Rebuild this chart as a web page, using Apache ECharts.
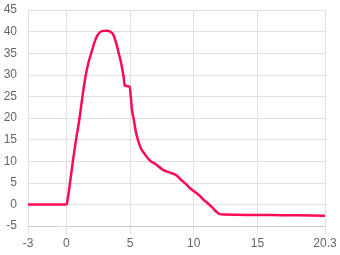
<!DOCTYPE html>
<html>
<head>
<meta charset="utf-8">
<script src="https://cdn.jsdelivr.net/npm/echarts@6/dist/echarts.min.js"></script>
<style>html,body{margin:0;padding:0;background:#fff}#c{width:340px;height:255px}</style>
</head>
<body>
<div id="c"></div>
<script>
var xValues = [-3, -1.5, -0.3, 0, 0.1, 0.25, 0.5, 0.77, 1.03, 1.27, 1.53, 1.75, 1.98, 2.25, 2.5, 2.8, 3.15, 3.45, 3.67, 3.9, 4.12, 4.32, 4.5, 4.6, 4.75, 4.95, 5.06, 5.16, 5.32, 5.45, 5.63, 5.85, 6.1, 6.55, 7.07, 7.6, 8.1, 8.6, 9.04, 9.4, 9.69, 10.0, 10.47, 10.8, 11.12, 11.45, 11.78, 12.04, 12.4, 15, 17, 20.3];
var yValues = [0, 0, -0.05, 0, 1, 4, 9.5, 15, 19.7, 24.9, 29.9, 32.9, 35.2, 37.8, 39.4, 40.1, 40.2, 40.0, 39.4, 37.5, 35, 32.5, 29.5, 27.5, 27.4, 27.3, 25, 21.8, 19.3, 17, 14.9, 13, 11.9, 10.2, 9.2, 8.0, 7.4, 6.8, 5.6, 4.7, 3.8, 3.1, 2.0, 1.0, 0.2, -0.7, -1.7, -2.25, -2.35, -2.45, -2.5, -2.6];
var xTicks = [-3, 0, 5, 10, 15, 20.3];
var yMin = -5, yMax = 45, yStep = 5;

var data = xValues.map(function (x, i) { return [x, yValues[i]]; });
var chart = echarts.init(document.getElementById('c'), null, { renderer: 'canvas' });
var labelStyle = { color: '#666', fontSize: 12, fontFamily: 'Liberation Sans, Arial, sans-serif' };
chart.setOption({
  animation: false,
  grid: { left: 28, right: 15, top: 10, bottom: 29, containLabel: false },
  xAxis: {
    type: 'value', min: xTicks[0], max: xTicks[xTicks.length - 1],
    axisLine: { show: true, onZero: false, lineStyle: { color: '#c8c8c8', width: 1 } },
    axisTick: { show: true, length: 8, customValues: xTicks, lineStyle: { color: '#e0e0e0' } },
    axisLabel: Object.assign({ margin: 12, customValues: xTicks, showMinLabel: true, showMaxLabel: true }, labelStyle),
    splitLine: { show: true, lineStyle: { color: '#e0e0e0', width: 1 } }
  },
  yAxis: {
    type: 'value', min: yMin, max: yMax, interval: yStep,
    axisLine: { show: true, lineStyle: { color: '#e0e0e0', width: 1 } },
    axisTick: { show: true, length: 8, lineStyle: { color: '#e0e0e0' } },
    axisLabel: Object.assign({ margin: 11 }, labelStyle),
    splitLine: { show: true, lineStyle: { color: '#e0e0e0', width: 1 } }
  },
  series: [{
    type: 'line', data: data, showSymbol: false, smooth: 0.4,
    lineStyle: { color: '#ff0a54', width: 2.5 },
    itemStyle: { color: '#ff0a54' }
  }]
});
</script>
</body>
</html>
